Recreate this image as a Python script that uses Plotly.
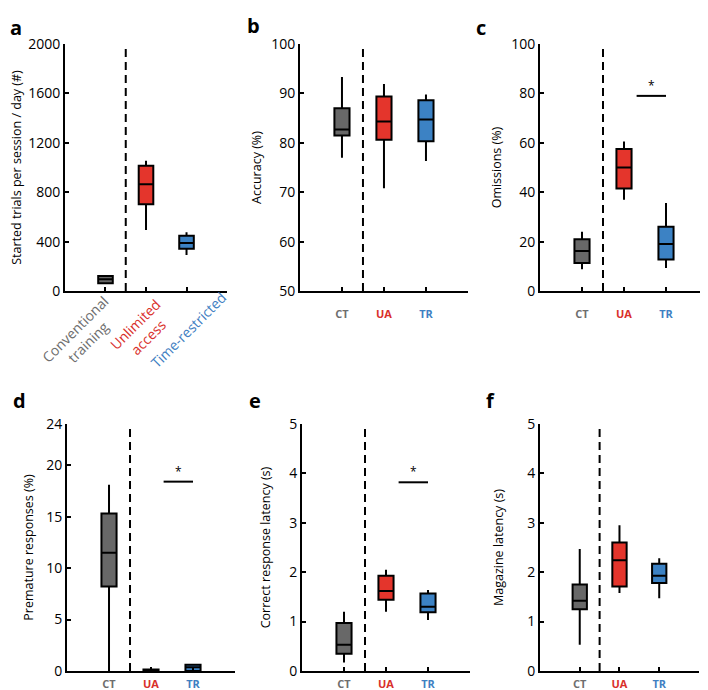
import plotly.graph_objects as go

# group order: CT, UA, TR  (box stats: lower whisker, q1, median, q3, upper whisker)
groups = ["CT", "UA", "TR"]
group_long = ["Conventional<br>training", "Unlimited<br>access", "Time-restricted"]

trials_lo = [64, 494, 292]
trials_q1 = [64, 702, 343]
trials_med = [95, 864, 389]
trials_q3 = [121, 1015, 448]
trials_hi = [121, 1055, 475]

acc_lo = [77.0, 70.8, 76.3]
acc_q1 = [81.5, 80.6, 80.3]
acc_med = [82.7, 84.3, 84.7]
acc_q3 = [87.0, 89.4, 88.6]
acc_hi = [93.3, 91.9, 89.8]

om_lo = [8.8, 37.0, 9.3]
om_q1 = [11.3, 41.5, 12.8]
om_med = [16.2, 50.0, 19.0]
om_q3 = [21.0, 57.5, 26.0]
om_hi = [24.0, 60.5, 35.6]

prem_lo = [0.0, 0.0, 0.0]
prem_q1 = [8.2, 0.0, 0.0]
prem_med = [11.5, 0.05, 0.35]
prem_q3 = [15.3, 0.15, 0.6]
prem_hi = [18.1, 0.2, 0.65]

crl_lo = [0.17, 1.20, 1.03]
crl_q1 = [0.35, 1.44, 1.19]
crl_med = [0.53, 1.62, 1.30]
crl_q3 = [0.97, 1.93, 1.57]
crl_hi = [1.20, 2.05, 1.64]

mag_lo = [0.53, 1.58, 1.47]
mag_q1 = [1.25, 1.71, 1.78]
mag_med = [1.42, 2.24, 1.93]
mag_q3 = [1.75, 2.60, 2.17]
mag_hi = [2.47, 2.95, 2.28]

fills = ["#686868", "#e4352c", "#3c82c4"]
label_cols = ["#6e6e6e", "#d9302b", "#3f80c2"]

TOP = [0.585, 0.9472]
BOT = [0.0279, 0.39]
panels = [
    dict(letter="a", stats=(trials_lo, trials_q1, trials_med, trials_q3, trials_hi),
         yrange=[0, 2000], yticks=[0, 400, 800, 1200, 1600, 2000],
         ytitle="Started trials per session / day (#)", standoff=6,
         xdom=[0.0814, 0.3129], ydom=TOP, sig=None, lab=12),
    dict(letter="b", stats=(acc_lo, acc_q1, acc_med, acc_q3, acc_hi),
         yrange=[50, 100], yticks=[50, 60, 70, 80, 90, 100],
         ytitle="Accuracy (%)", standoff=7,
         xdom=[0.4171, 0.6571], ydom=TOP, sig=None, lab=12),
    dict(letter="c", stats=(om_lo, om_q1, om_med, om_q3, om_hi),
         yrange=[0, 100], yticks=[0, 20, 40, 60, 80, 100],
         ytitle="Omissions (%)", standoff=7,
         xdom=[0.76, 1.0], ydom=TOP, sig=79, lab=12),
    dict(letter="d", stats=(prem_lo, prem_q1, prem_med, prem_q3, prem_hi),
         yrange=[0, 24], yticks=[0, 5, 10, 15, 20, 24],
         ytitle="Premature responses (%)", standoff=10,
         xdom=[0.0843, 0.3243], ydom=BOT, sig=18.4, lab=2),
    dict(letter="e", stats=(crl_lo, crl_q1, crl_med, crl_q3, crl_hi),
         yrange=[0, 5], yticks=[0, 1, 2, 3, 4, 5],
         ytitle="Correct response latency (s)", standoff=16,
         xdom=[0.42, 0.66], ydom=BOT, sig=3.82, lab=2),
    dict(letter="f", stats=(mag_lo, mag_q1, mag_med, mag_q3, mag_hi),
         yrange=[0, 5], yticks=[0, 1, 2, 3, 4, 5],
         ytitle="Magazine latency (s)", standoff=21,
         xdom=[0.76, 0.9871], ydom=BOT, sig=None, lab=2),
]

letter_pos = [(0.0, 0.994), (0.351, 0.997), (0.676, 0.994),
              (0.017, 0.4252), (0.353, 0.4252), (0.69, 0.4252)]

# rotated group labels under panel a: centre (x in data units, y in paper units)
long_label_x = [0.40, 1.90, 3.06]
long_label_y = [0.5205, 0.5264, 0.5279]

FONT = "Open Sans"
fig = go.Figure()
layout = dict(
    width=700, height=682,
    margin=dict(l=0, r=0, t=0, b=0, autoexpand=False),
    plot_bgcolor="white", paper_bgcolor="white", showlegend=False,
    font=dict(family=FONT, color="black"),
)
shapes = []
annotations = []

for i, p in enumerate(panels):
    n = "" if i == 0 else str(i + 1)
    xa, ya = "x" + n, "y" + n
    lo, q1, med, q3, hi = p["stats"]
    for g in range(3):
        fig.add_trace(go.Box(
            x=[g + 1], lowerfence=[lo[g]], q1=[q1[g]], median=[med[g]],
            q3=[q3[g]], upperfence=[hi[g]],
            fillcolor=fills[g], line=dict(color="black", width=2),
            width=0.36, whiskerwidth=0, boxpoints=False, hoverinfo="skip",
            xaxis=xa, yaxis=ya,
        ))

    if i == 0:
        ticktext = ["", "", ""]
        for g in range(3):
            annotations.append(dict(
                x=long_label_x[g], y=long_label_y[g], xref=xa, yref="paper",
                text=group_long[g], textangle=-45, showarrow=False,
                xanchor="center", yanchor="middle",
                font=dict(size=14, color=label_cols[g], family=FONT)))
    else:
        ticktext = [f"<span style='color:{label_cols[g]}'><b>{groups[g]}</b></span>" for g in range(3)]

    layout["xaxis" + n] = dict(
        domain=p["xdom"], anchor=ya, range=[0, 4], tickmode="array",
        tickvals=[1, 2, 3], ticktext=ticktext, tickangle=0,
        tickfont=dict(size=11, family=FONT), ticks="inside", ticklen=4,
        tickwidth=2, tickcolor="black", automargin=False,
        showline=True, linecolor="black", linewidth=2, showgrid=False,
        zeroline=False, ticklabelstandoff=p["lab"], fixedrange=True,
    )
    layout["yaxis" + n] = dict(
        domain=p["ydom"], anchor=xa, range=p["yrange"], tickmode="array",
        tickvals=p["yticks"], tickfont=dict(size=14), ticks="inside",
        ticklen=4, tickwidth=2, tickcolor="black", automargin=False,
        showline=True, linecolor="black", linewidth=2, showgrid=False,
        zeroline=False,
        title=dict(text=p["ytitle"], font=dict(size=12.5), standoff=p["standoff"]),
        fixedrange=True,
    )

    # dashed separator between conventional training and home-cage groups
    shapes.append(dict(type="line", xref=xa, yref=ya, x0=1.5, x1=1.5,
                       y0=p["yrange"][0], y1=p["yrange"][1],
                       line=dict(color="black", width=2, dash="8px,5px")))

    if p["sig"] is not None:
        shapes.append(dict(type="line", xref=xa, yref=ya, x0=2.3, x1=3.0,
                           y0=p["sig"], y1=p["sig"],
                           line=dict(color="black", width=2)))
        annotations.append(dict(x=2.65, y=p["sig"], xref=xa, yref=ya,
                                text="*", showarrow=False, yanchor="bottom",
                                font=dict(size=12)))

    lx, ly = letter_pos[i]
    annotations.append(dict(x=lx, y=ly, xref="paper", yref="paper",
                            text=f"<b>{p['letter']}</b>", showarrow=False,
                            xanchor="left" if i == 0 else "center",
                            font=dict(size=20, family=FONT)))

layout["shapes"] = shapes
layout["annotations"] = annotations
fig.update_layout(**layout)

fig.write_html("out.html")
